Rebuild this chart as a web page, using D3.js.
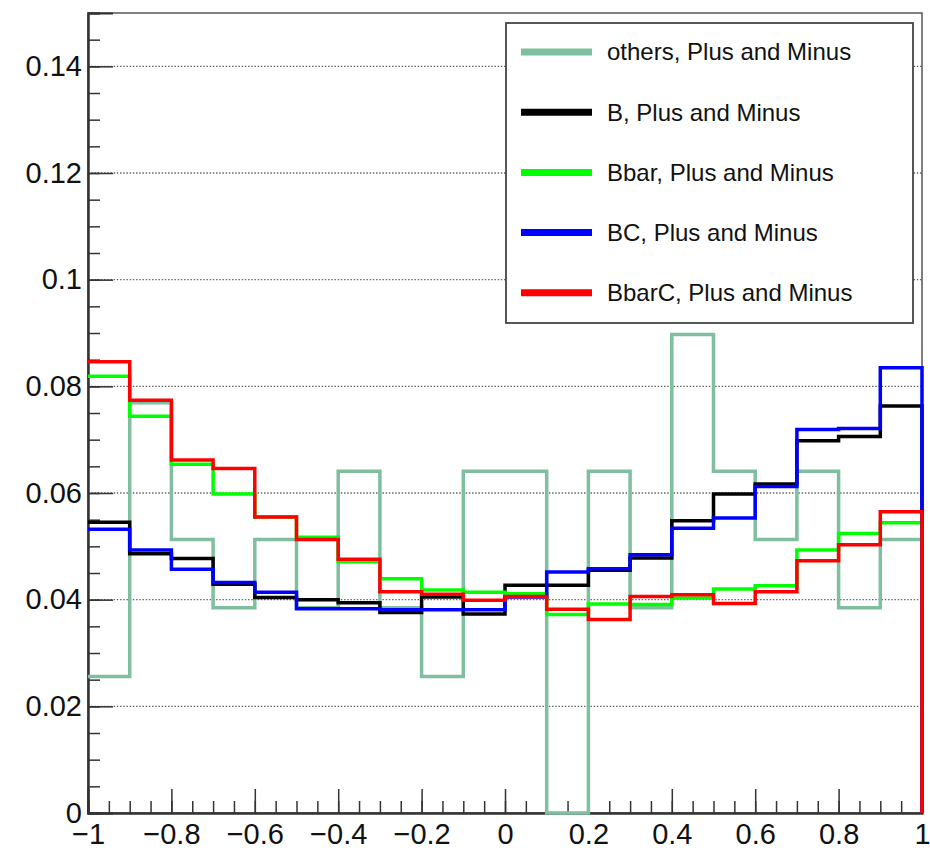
<!DOCTYPE html>
<html>
<head>
<meta charset="utf-8">
<script src="https://cdn.jsdelivr.net/npm/d3@7"></script>
<style>
  body { margin: 0; background: #fff; }
  svg { font-family: "Liberation Sans", Arial, sans-serif; }
</style>
</head>
<body>
<svg id="chart" width="930" height="850"></svg>
<script>
// bin edges: 20 bins from -1 to 1
const binEdges = d3.range(21).map(i => +(-1 + i * 0.1).toFixed(2));

const others = [0.0256, 0.0769, 0.0513, 0.0385, 0.0513, 0.0385, 0.0641, 0.0385, 0.0256, 0.0641,
                0.0641, 0, 0.0641, 0.0385, 0.0897, 0.0641, 0.0513, 0.0641, 0.0385, 0.0513];
const bPM = [0.0545, 0.0486, 0.0477, 0.0429, 0.0404, 0.0400, 0.0394, 0.0376, 0.0405, 0.0373,
             0.0427, 0.0427, 0.0455, 0.0478, 0.0548, 0.0598, 0.0617, 0.0698, 0.0706, 0.0763];
const bbarPM = [0.0819, 0.0744, 0.0654, 0.0598, 0.0555, 0.0517, 0.0471, 0.0439, 0.0418, 0.0414,
                0.0411, 0.0372, 0.0392, 0.0391, 0.0403, 0.0420, 0.0426, 0.0493, 0.0524, 0.0544];
const bcPM = [0.0532, 0.0493, 0.0457, 0.0432, 0.0414, 0.0383, 0.0383, 0.0381, 0.0381, 0.0381,
              0.0405, 0.0452, 0.0458, 0.0484, 0.0534, 0.0553, 0.0612, 0.0719, 0.0721, 0.0835];
const bbarcPM = [0.0846, 0.0774, 0.0662, 0.0646, 0.0555, 0.0513, 0.0476, 0.0415, 0.0410, 0.0399,
                 0.0406, 0.0382, 0.0363, 0.0406, 0.0409, 0.0393, 0.0415, 0.0473, 0.0503, 0.0565];

const seriesNames = ["others, Plus and Minus", "B, Plus and Minus", "Bbar, Plus and Minus",
                     "BC, Plus and Minus", "BbarC, Plus and Minus"];
const seriesValues = [others, bPM, bbarPM, bcPM, bbarcPM];
const seriesColors = ["#7fbf9f", "#000000", "#00ff00", "#0000ff", "#ff0000"];

const xMajor = d3.range(11).map(i => +(-1 + i * 0.2).toFixed(2));
const xMinor = d3.range(41).map(i => +(-1 + i * 0.05).toFixed(3));
const yMajor = d3.range(8).map(i => +(i * 0.02).toFixed(2));
const yMinor = d3.range(31).map(i => +(i * 0.005).toFixed(3));

let plotLeft = 88, plotRight = 922, plotTop = 13, plotBottom = 813;

let svg = d3.select("#chart");
let x = d3.scaleLinear().domain([-1, 1]).range([plotLeft, plotRight]);
let y = d3.scaleLinear().domain([0, 0.15]).range([plotBottom, plotTop]);
let fmt = d3.format("~g");

// grid lines (horizontal only)
svg.append("g")
    .selectAll("line")
    .data(yMajor.filter(d => d > 0))
    .enter().append("line")
    .attr("x1", plotLeft).attr("x2", plotRight)
    .attr("y1", d => y(d)).attr("y2", d => y(d))
    .attr("stroke", "#666")
    .attr("stroke-width", 1.3)
    .attr("stroke-dasharray", "1.5,1.7");

// frame
svg.append("rect")
    .attr("x", plotLeft).attr("y", plotTop)
    .attr("width", plotRight - plotLeft).attr("height", plotBottom - plotTop)
    .attr("fill", "none")
    .attr("stroke", "#555")
    .attr("stroke-width", 1.5);

// x axis
let xAxisMinor = d3.axisBottom(x).tickValues(xMinor).tickSize(-12).tickFormat("");
let xAxisMajor = d3.axisBottom(x).tickValues(xMajor).tickSize(-24)
    .tickFormat(d => fmt(d));
let gx1 = svg.append("g").attr("transform", "translate(0," + plotBottom + ")").call(xAxisMinor);
let gx2 = svg.append("g").attr("transform", "translate(0," + plotBottom + ")").call(xAxisMajor);
[gx1, gx2].forEach(g => {
    g.select(".domain").attr("stroke", "#333").attr("stroke-width", 2);
    g.selectAll(".tick line").attr("stroke", "#333").attr("stroke-width", 1.5);
});
gx2.selectAll(".tick text")
    .attr("font-size", 29)
    .attr("fill", "#111")
    .attr("dy", "0")
    .attr("y", 31);

// y axis
let yAxisMinor = d3.axisLeft(y).tickValues(yMinor).tickSize(-12).tickFormat("");
let yAxisMajor = d3.axisLeft(y).tickValues(yMajor).tickSize(-25)
    .tickFormat(d => fmt(d));
let gy1 = svg.append("g").attr("transform", "translate(" + plotLeft + ",0)").call(yAxisMinor);
let gy2 = svg.append("g").attr("transform", "translate(" + plotLeft + ",0)").call(yAxisMajor);
[gy1, gy2].forEach(g => {
    g.select(".domain").attr("stroke", "#333").attr("stroke-width", 2);
    g.selectAll(".tick line").attr("stroke", "#333").attr("stroke-width", 1.5);
});
gy2.selectAll(".tick text")
    .attr("font-size", 29)
    .attr("fill", "#111")
    .attr("x", -6);

// histograms as step outlines (left edge hidden by the axis, right edge drops to 0)
let line = d3.line()
    .x(d => x(d[0]))
    .y(d => y(d[1]));

function outline(values) {
    let pts = [];
    values.forEach((v, i) => {
        pts.push([binEdges[i], v]);
        pts.push([binEdges[i + 1], v]);
    });
    pts.push([binEdges[binEdges.length - 1], 0]);
    return pts;
}

svg.append("g")
    .selectAll("path")
    .data(seriesValues)
    .enter().append("path")
    .attr("d", d => line(outline(d)))
    .attr("fill", "none")
    .attr("stroke", (d, i) => seriesColors[i])
    .attr("stroke-width", 3.5)
    .attr("stroke-linejoin", "miter");

// legend
let legend = svg.append("g");
legend.append("rect")
    .attr("x", 506).attr("y", 23)
    .attr("width", 407).attr("height", 300)
    .attr("fill", "#fff")
    .attr("stroke", "#444")
    .attr("stroke-width", 1.8);

let item = legend.selectAll("g.item")
    .data(seriesNames)
    .enter().append("g")
    .attr("class", "item")
    .attr("transform", (d, i) => "translate(0," + (52 + i * 60.2) + ")");
item.append("line")
    .attr("x1", 521).attr("x2", 592)
    .attr("y1", 0).attr("y2", 0)
    .attr("stroke", (d, i) => seriesColors[i])
    .attr("stroke-width", 7);
item.append("text")
    .attr("x", 607)
    .attr("y", 0)
    .attr("dy", "0.35em")
    .attr("font-size", 24)
    .attr("fill", "#111")
    .text(d => d);
</script>
</body>
</html>
